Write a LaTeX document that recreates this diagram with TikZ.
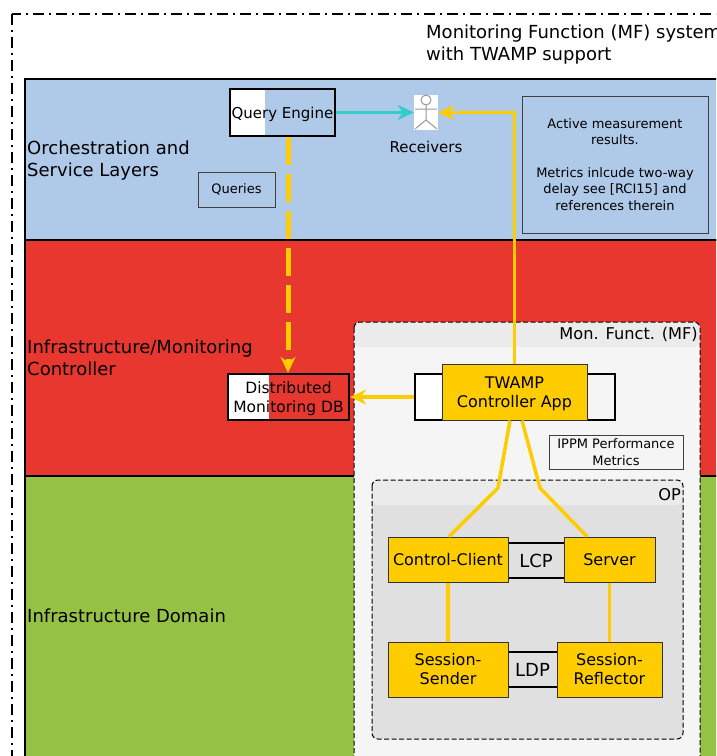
\documentclass[tikz,border=0pt]{standalone}
\usepackage{fontspec}
\setmainfont{DejaVu Sans}
\usetikzlibrary{arrows.meta, calc}
\definecolor{layerblue}{HTML}{AFC9E9}
\definecolor{layerred}{HTML}{E8372F}
\definecolor{layergreen}{HTML}{95C145}
\definecolor{appyellow}{HTML}{FFCC00}
\definecolor{panelgrey}{HTML}{F5F5F5}
\definecolor{headgrey}{HTML}{EBEBEB}
\definecolor{opgrey}{HTML}{E0E0E0}
\definecolor{linkteal}{HTML}{33CCCC}
\newcommand{\lowtext}[1]{\raisebox{-2pt}[\height][\depth]{#1}}
\tikzset{
  layer/.style={draw=black, line width=2pt},
  panel/.style={draw=black, line width=1pt, dash pattern=on 5pt off 2.5pt, rounded corners=6pt},
  thickbox/.style={draw=black, line width=2.2pt, inner sep=0pt, font=\fontsize{15.5}{19}\selectfont, align=center},
  appbox/.style={draw=black!80, line width=1pt, fill=appyellow, inner sep=0pt, font=\fontsize{16}{19}\selectfont, align=center},
  notebox/.style={draw=black!75, line width=1pt, inner sep=0pt, font=\fontsize{13}{16.3}\selectfont, align=center},
  linkbox/.style={fill=opgrey, inner sep=0pt, font=\fontsize{18}{22}\selectfont},
  layerlabel/.style={anchor=west, inner sep=0pt, align=left, font=\fontsize{18}{22}\selectfont},
  panellabel/.style={anchor=north east, inner sep=0pt, font=\fontsize{16.2}{19}\selectfont},
  link/.style={appyellow, line width=3.5pt},
  tip/.style={-{Stealth[length=16pt, width=15pt, inset=5pt]}}
}
\begin{document}
\begin{tikzpicture}[x=1pt, y=-1pt]
  \useasboundingbox (0, 0) rectangle (716, 756);
  \clip (0, 0) rectangle (716, 756);

  % system frame
  \draw[line width=2pt, dash pattern=on 11pt off 5pt on 2pt off 5pt] (12, 14) rectangle (760, 800);
  \node[layerlabel] (system) at (426, 45) {Monitoring Function (MF) system\\with TWAMP support};

  % layers
  \draw[layer, fill=layerblue] (25, 79) rectangle (760, 240);
  \draw[layer, fill=layerred] (25, 240) rectangle (760, 476);
  \draw[layer, fill=layergreen] (25, 476) rectangle (760, 800);
  \node[layerlabel] (orch) at (27, 161) {Orchestration and\\Service Layers};
  \node[layerlabel] (ctrl) at (27, 358) {Infrastructure/Monitoring\\Controller};
  \node[layerlabel] (infra) at (27, 616) {Infrastructure Domain};

  % monitoring function panel
  \fill[panelgrey, rounded corners=6pt] (354, 322) rectangle (700, 790);
  \fill[headgrey, rounded corners=6pt] (354, 322) -- (700, 322) -- (700, 347) -- (354, 347) -- cycle;
  \draw[panel] (354, 322) rectangle (700, 790);
  \node[panellabel] (mf) at (698, 327) {Mon. Funct. (MF)};

  % OP panel
  \fill[opgrey, rounded corners=6pt] (372, 480) rectangle (683, 739);
  \fill[headgrey, rounded corners=6pt] (372, 480) -- (683, 480) -- (683, 505) -- (372, 505) -- cycle;
  \draw[panel] (372, 480) rectangle (683, 739);
  \node[panellabel] (op) at (681, 488) {OP};

  % top boxes
  \fill[white] (230, 89) rectangle (265, 136);
  \node[thickbox, font=\fontsize{15}{19}\selectfont, minimum width=105pt, minimum height=47pt] (query) at (282.5, 112.5) {\lowtext{Query Engine}};
  \fill[white] (228, 374) rectangle (269, 420);
  \node[thickbox, minimum width=121pt, minimum height=46pt] (db) at (288.5, 397) {\lowtext{Distributed}\\\lowtext{Monitoring DB}};
  \node[notebox, minimum width=77pt, minimum height=35pt] (queries) at (236.5, 189.5) {Queries};
  \node[notebox, minimum width=186pt, minimum height=137pt] (results) at (615, 164.5) {Active measurement\\results.\\[\baselineskip]Metrics inlcude two-way\\delay see [RCI15] and\\references therein};
  \node[notebox, minimum width=134pt, minimum height=34pt] (ippm) at (616, 452) {IPPM Performance\\Metrics};

  % receivers
  \node[fill=white, inner sep=0pt, minimum width=24pt, minimum height=35pt] (actor) at (426, 112.5) {};
  \draw[black!40, line width=1pt] (426, 100) circle (5) (426, 105) -- (426, 120) (415, 109) -- (437, 109) (415, 129) -- (426, 120) -- (437, 129);
  \node[inner sep=0pt, font=\fontsize{15}{18}\selectfont] (recv) at (426, 147) {Receivers};

  % controller app
  \node[draw=black, line width=2pt, fill=panelgrey, inner sep=0pt, minimum width=200pt, minimum height=46pt] (ctrlback) at (515, 397) {};
  \fill[white] (416, 375) rectangle (442, 419);
  \node[appbox, minimum width=145pt, minimum height=56pt] (twamp) at (514.5, 392) {\lowtext{TWAMP}\\\lowtext{Controller App}};

  % measurement blocks
  \node[linkbox, minimum width=56pt, minimum height=35pt] (lcp) at (536, 560.5) {LCP};
  \node[linkbox, minimum width=49pt, minimum height=35pt] (ldp) at (532.5, 669.5) {LDP};
  \draw[line width=2pt] (lcp.north west) -- (lcp.north east) (lcp.south west) -- (lcp.south east);
  \draw[line width=2pt] (ldp.north west) -- (ldp.north east) (ldp.south west) -- (ldp.south east);
  \node[appbox, minimum width=120pt, minimum height=45pt] (client) at (448, 559.5) {Control-Client};
  \node[appbox, minimum width=91pt, minimum height=45pt] (server) at (609.5, 559.5) {Server};
  \node[appbox, minimum width=120pt, minimum height=55pt] (sender) at (448, 669.5) {Session-\\Sender};
  \node[appbox, minimum width=105pt, minimum height=55pt] (reflector) at (609.5, 669.5) {Session-\\Reflector};

  % connectors
  \coordinate (bendl) at (498, 488);
  \coordinate (bendr) at (540, 488);
  \draw[link] ([xshift=-4.5pt]twamp.south) -- (bendl) -- ([xshift=1pt]client.north);
  \draw[link] ([xshift=7.5pt]twamp.south) -- (bendr) -- ([xshift=-22.5pt]server.north);
  \draw[link] (client) -- (sender);
  \draw[link] (server) -- (reflector);
  \draw[link, tip] (twamp.north) |- (actor.east);
  \draw[link, tip] (ctrlback.west) -- (db.east);
  \draw[linkteal, line width=3.5pt, tip] (query.east) -- (actor.west);
  \draw[link, line width=5pt, dash pattern=on 28pt off 9pt, tip] ([xshift=5.5pt]query.south) -- ([xshift=-0.5pt]db.north);
\end{tikzpicture}
\end{document}
